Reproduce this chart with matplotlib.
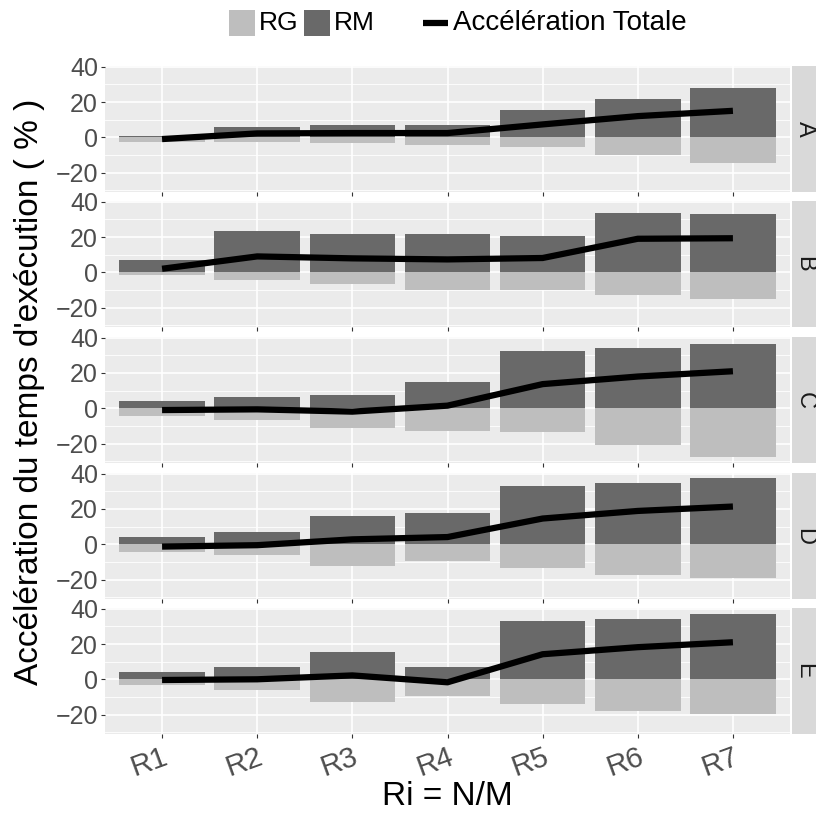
import numpy as np
import matplotlib
matplotlib.use("Agg")
import matplotlib.pyplot as plt
from matplotlib.patches import Rectangle
from matplotlib.lines import Line2D

ratios = ["R1", "R2", "R3", "R4", "R5", "R6", "R7"]
panels = ["A", "B", "C", "D", "E"]

# RM (positive part), RG (negative part), total speedup, per panel
rm = {
    "A": [1.0, 6.0, 7.1, 7.1, 15.6, 21.8, 28.0],
    "B": [7.1, 23.5, 21.8, 21.8, 20.6, 33.6, 33.0],
    "C": [4.3, 6.6, 7.7, 15.0, 32.5, 34.1, 36.4],
    "D": [4.1, 6.9, 15.9, 17.6, 32.8, 34.5, 37.3],
    "E": [4.1, 6.9, 15.4, 6.9, 32.8, 34.0, 36.8],
}
rg = {
    "A": [-2.8, -2.4, -3.0, -4.1, -5.6, -9.8, -14.6],
    "B": [-1.3, -4.1, -6.9, -9.8, -10.3, -13.1, -15.4],
    "C": [-4.1, -6.4, -10.9, -13.1, -13.7, -21.0, -27.8],
    "D": [-4.3, -6.0, -12.2, -9.4, -13.3, -17.3, -19.3],
    "E": [-3.2, -6.0, -12.8, -9.4, -13.9, -17.8, -19.5],
}
total = {
    "A": [-1.0, 2.2, 2.4, 2.4, 7.3, 12.0, 15.0],
    "B": [2.0, 9.0, 7.9, 7.3, 8.1, 19.0, 19.3],
    "C": [-1.0, -0.6, -1.9, 1.5, 13.7, 18.0, 21.0],
    "D": [-1.3, -0.5, 2.8, 4.1, 14.6, 18.9, 21.4],
    "E": [-0.4, 0.0, 2.2, -1.7, 14.2, 18.2, 21.0],
}

C_RM = "#696969"
C_RG = "#bebebe"
BG = "#ebebeb"
TXT = "#4d4d4d"

W, H = 816, 814
fig = plt.figure(figsize=(W / 100, H / 100), dpi=100)
plt.rcParams["font.family"] = ["Liberation Sans", "DejaVu Sans"]

left, right = 105, 790
tops = [66, 201, 337, 473, 608]
ph = 126
x = np.arange(1, len(ratios) + 1)

for i, (p, top) in enumerate(zip(panels, tops)):
    ax = fig.add_axes([left / W, 1 - (top + ph) / H, (right - left) / W, ph / H])
    ax.set_facecolor(BG)
    ax.bar(x, rm[p], width=0.9, color=C_RM, zorder=2)
    ax.bar(x, rg[p], width=0.9, color=C_RG, zorder=2)
    ax.plot(x, total[p], color="black", lw=4.5, zorder=3, solid_capstyle="butt")
    ax.set_xlim(0.4, 7.6)
    ax.set_ylim(-31, 40.4)
    ax.set_yticks([-20, 0, 20, 40])
    ax.set_yticklabels(["\u221220", "0", "20", "40"])
    ax.set_yticks([-30, -10, 10, 30], minor=True)
    ax.set_xticks(x)
    ax.grid(True, which="major", color="white", lw=1.2, zorder=0)
    ax.grid(True, which="minor", axis="y", color="white", lw=0.6, zorder=0)
    ax.set_axisbelow(True)
    for s in ax.spines.values():
        s.set_visible(False)
    ax.tick_params(axis="both", which="major", length=3, color="#333333",
                   labelsize=18, labelcolor=TXT, pad=2)
    ax.tick_params(axis="y", which="minor", length=0)
    if i < len(panels) - 1:
        ax.set_xticklabels([])
    else:
        ax.set_xticklabels(ratios, rotation=20, ha="right", rotation_mode="anchor",
                           fontsize=21)
        ax.tick_params(axis="x", pad=3)
        ax.set_xlabel("Ri = N/M", fontsize=24, labelpad=0)
    # facet strip
    sax = fig.add_axes([792 / W, 1 - (top + ph) / H, 24 / W, ph / H])
    sax.set_facecolor("#d9d9d9")
    sax.set_xticks([])
    sax.set_yticks([])
    for s in sax.spines.values():
        s.set_visible(False)
    sax.text(0.52, 0.5, p, rotation=-90, ha="center", va="center",
             fontsize=17, color="#1a1a1a", transform=sax.transAxes)

fig.text(30 / W, 1 - 392 / H, "Accélération du temps d'exécution ( % )",
         rotation=90, ha="center", va="center", fontsize=24)

# legend (top)
ly = 1 - 23 / H
for x0, col, lab in [(229, C_RG, "RG"), (304, C_RM, "RM")]:
    fig.add_artist(Rectangle((x0 / W, 1 - 36 / H), 26 / W, 26 / H, facecolor=col,
                             edgecolor="none", transform=fig.transFigure))
    fig.text((x0 + 30) / W, ly, lab, ha="left", va="center", fontsize=19)
fig.add_artist(Line2D([423 / W, 448 / W], [ly, ly], color="black", lw=4.5,
                      solid_capstyle="butt", transform=fig.transFigure))
fig.text(453 / W, ly, "Accélération Totale", ha="left", va="center", fontsize=20)

fig.savefig("out.png", dpi=100)
